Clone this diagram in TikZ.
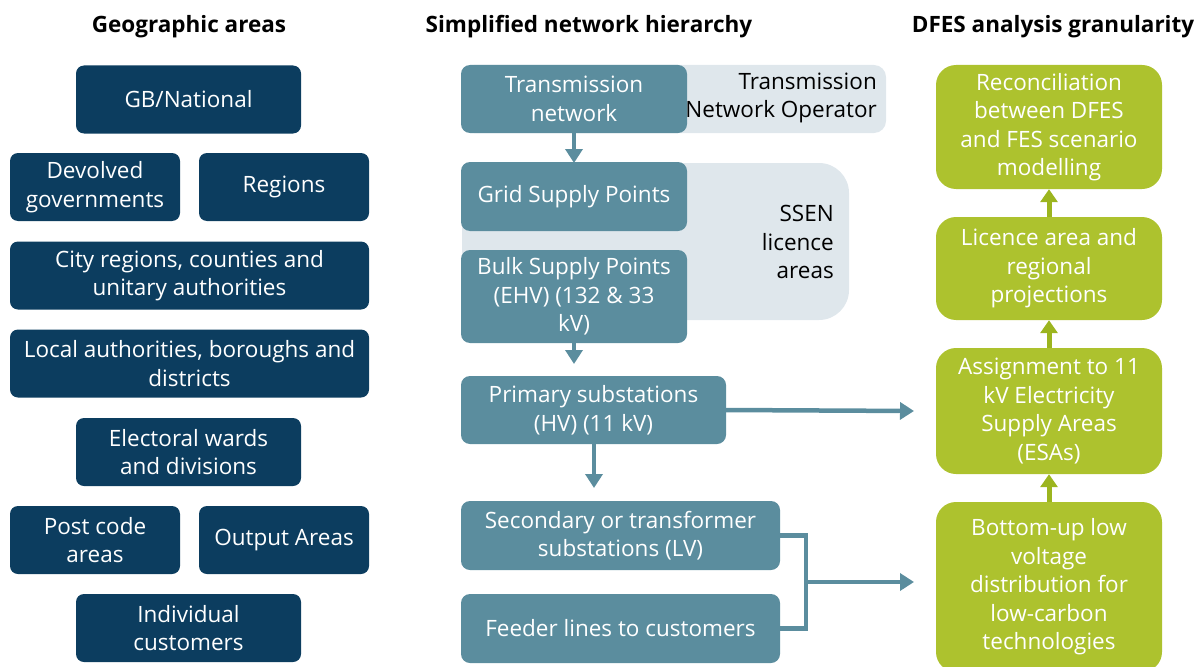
\documentclass[tikz,border=0pt]{standalone}
\usepackage{fontspec}
\setmainfont{Open Sans}
\usetikzlibrary{arrows.meta}
\definecolor{navy}{HTML}{0C3D5F}
\definecolor{teal}{HTML}{5B8D9E}
\definecolor{lightbg}{HTML}{DFE7EC}
\definecolor{lime}{HTML}{ADC22E}
\definecolor{limearrow}{HTML}{9CB51F}
\begin{document}
\begin{tikzpicture}[x=1pt,y=-1pt,
  every node/.style={font=\fontsize{22.5}{28.5}\selectfont, align=center, inner sep=0pt},
  navybox/.style={fill=navy, text=white, rounded corners=8pt},
  tealbox/.style={fill=teal, text=white, rounded corners=9pt},
  limebox/.style={fill=lime, text=white, rounded corners=20pt},
  hdr/.style={font=\fontsize{22.5}{26}\selectfont\bfseries},
  tarrow/.style={draw=teal, line width=4.5pt, -{Triangle[width=17pt,length=14pt]}},
  garrow/.style={draw=limearrow, line width=5pt, -{Triangle[width=17pt,length=13pt]}},
]
\useasboundingbox (0,0) rectangle (1198,666);
% headers
\node[hdr] (h1) at (189,27) {Geographic areas};
\node[hdr] (h2) at (589,27) {Simplified network hierarchy};
\node[hdr] (h3) at (1053,27) {DFES analysis granularity};
% left column
\node[navybox, minimum width=225pt, minimum height=68pt] (gb) at (188.5,99.5) {GB/National};
\node[navybox, minimum width=170pt, minimum height=68pt] (dev) at (95,187) {Devolved\\governments};
\node[navybox, minimum width=170pt, minimum height=68pt] (reg) at (284,187) {Regions};
\node[navybox, minimum width=359pt, minimum height=68pt] (city) at (189.5,275.5) {City regions, counties and\\unitary authorities};
\node[navybox, minimum width=359pt, minimum height=68pt] (local) at (189.5,363.5) {Local authorities, boroughs and\\districts};
\node[navybox, minimum width=225pt, minimum height=68pt] (ward) at (188.5,452) {Electoral wards\\and divisions};
\node[navybox, minimum width=170pt, minimum height=68pt] (post) at (95,540) {Post code\\areas};
\node[navybox, minimum width=170pt, minimum height=68pt] (out) at (284,540) {Output Areas};
\node[navybox, minimum width=225pt, minimum height=68pt] (ind) at (188.5,628) {Individual\\customers};
% middle backgrounds
\fill[lightbg, rounded corners=12pt] (462,65) rectangle (886,133);
\fill[lightbg, rounded corners=30pt] (462,163) rectangle (849,320);
\node[anchor=east, align=right] (tno) at (877,98) {Transmission\\Network Operator};
\node[anchor=east, align=right] (ssen) at (834,242) {SSEN\\licence\\areas};
% middle boxes
\node[tealbox, minimum width=226pt, minimum height=68pt] (tn) at (574,99) {Transmission\\network};
\node[tealbox, minimum width=226pt, minimum height=69pt] (gsp) at (574,196.5) {Grid Supply Points};
\node[tealbox, minimum width=226pt, minimum height=93pt] (bsp) at (574,296.5) {Bulk Supply Points\\(EHV) (132 \& 33\\kV)};
\node[tealbox, minimum width=265pt, minimum height=68pt] (prim) at (593.5,410) {Primary substations\\(HV) (11 kV)};
\node[tealbox, minimum width=319pt, minimum height=69pt] (sec) at (620.5,535.5) {Secondary or transformer\\substations (LV)};
\node[tealbox, minimum width=319pt, minimum height=69pt] (feed) at (620.5,628.5) {Feeder lines to customers};
% right boxes
\node[limebox, minimum width=226pt, minimum height=124pt] (rec) at (1049,127) {Reconciliation\\between DFES\\and FES scenario\\modelling};
\node[limebox, minimum width=226pt, minimum height=103pt] (lic) at (1049,268.5) {Licence area and\\regional\\projections};
\node[limebox, minimum width=226pt, minimum height=126pt] (asg) at (1049,411) {Assignment to 11\\kV Electricity\\Supply Areas\\(ESAs)};
\node[limebox, minimum width=226pt, minimum height=170pt] (bot) at (1049,587) {Bottom-up low\\voltage\\distribution for\\low-carbon\\technologies};
% connectors
\coordinate (a1) at (574,163);
\coordinate (a2) at (574,364);
\coordinate (a3) at (594,488);
\coordinate (a4) at (914,411);
\coordinate (a5) at (914,582);
\coordinate (j) at (806,582);
\draw[tarrow] (tn.south) -- (a1);
\draw[tarrow] (bsp.south) -- (a2);
\draw[tarrow] (prim.south) ++(0.5,0) -- (a3);
\draw[tarrow] (prim.east) -- (a4);
\draw[draw=teal, line width=4.5pt] (sec.east) -| (j) |- (feed.east);
\draw[tarrow] (j) -- (a5);
\draw[garrow] (bot.north) -- (asg.south);
\draw[garrow] (asg.north) -- (lic.south);
\draw[garrow] (lic.north) -- (rec.south);
\end{tikzpicture}
\end{document}
